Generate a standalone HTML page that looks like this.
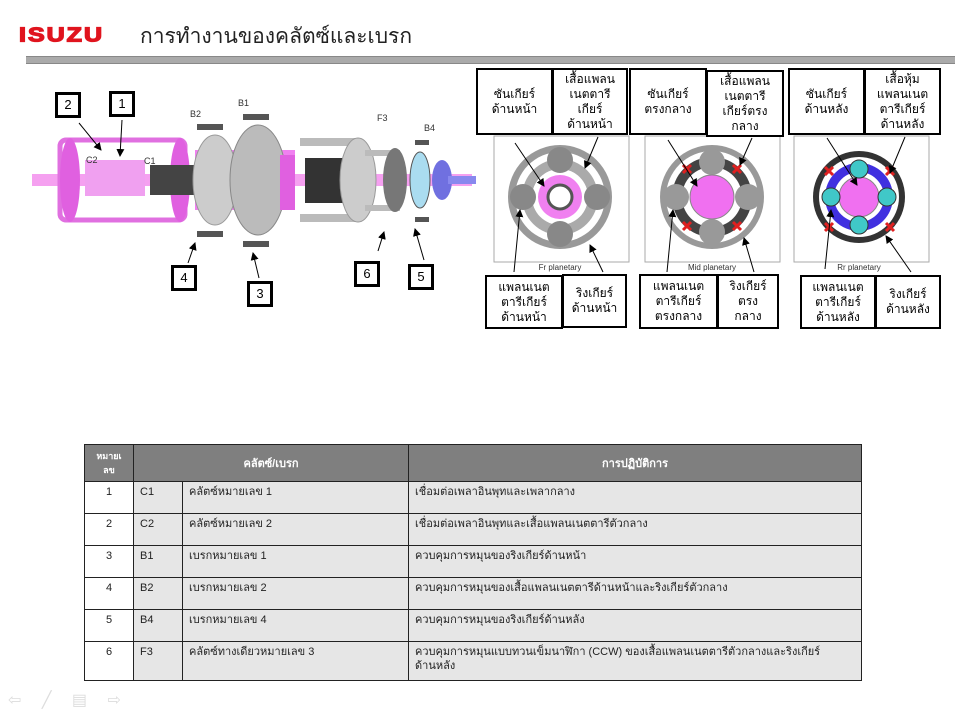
<!DOCTYPE html>
<html><head><meta charset="utf-8"><style>
body{margin:0;width:955px;height:718px;background:#fff;position:relative;overflow:hidden;font-family:"Liberation Sans",sans-serif}
.a{position:absolute}
.bx{position:absolute;border:2px solid #000;background:#fff;font-size:12px;text-align:center;line-height:15px;box-sizing:border-box;display:flex;align-items:center;justify-content:center}
.nb{position:absolute;border:3px solid #000;background:#fff;width:26px;height:26px;box-sizing:border-box;font-size:13px;text-align:center;line-height:20px}
table{position:absolute;left:84px;top:444px;border-collapse:collapse;font-size:11px;color:#222;table-layout:fixed;width:777px}
td{border:1px solid #222;vertical-align:top;padding:3px 6px 0;height:29px;background:#e6e6e6;box-sizing:border-box;overflow:hidden;line-height:14px}
td.n{background:#fff;text-align:center}
th{background:#7f7f7f;color:#fff;font-size:11px;height:37px;border:1px solid #222;padding:0;box-sizing:border-box}
</style></head><body>
<div class="a" style="left:19px;top:24px;color:#e0141e;font-weight:900;font-size:25px;letter-spacing:2px;-webkit-text-stroke:1.6px #e0141e;transform:scaleY(0.8);transform-origin:top left">ISUZU</div>
<div class="a" style="left:140px;top:20px;font-size:21px;color:#222">การทำงานของคลัตซ์และเบรก</div>
<div class="a" style="left:26px;top:56px;width:929px;height:6px;background:#aaa;border-top:1px solid #888;border-bottom:1px solid #888"></div>

<svg class="a" style="left:0;top:0" width="955" height="440">
<defs><marker id="ar" markerWidth="8" markerHeight="8" refX="7" refY="4" orient="auto"><path d="M0,0L8,4L0,8z" fill="#000"/></marker></defs>
<rect x="32" y="174" width="440" height="12" fill="#f5a0f0"/>
<rect x="60" y="140" width="125" height="80" rx="6" fill="none" stroke="#e070e0" stroke-width="5"/>
<ellipse cx="70" cy="180" rx="10" ry="42" fill="#e060e0"/>
<ellipse cx="180" cy="180" rx="10" ry="42" fill="#e060e0"/>
<rect x="85" y="160" width="60" height="36" fill="#f0a0f0"/>
<rect x="150" y="165" width="45" height="30" fill="#444"/>
<rect x="195" y="150" width="100" height="60" fill="#f080f0"/>
<ellipse cx="215" cy="180" rx="22" ry="45" fill="#ccc" stroke="#999"/>
<ellipse cx="258" cy="180" rx="28" ry="55" fill="#bbb" stroke="#888"/>
<rect x="280" y="155" width="15" height="55" fill="#e060e0"/>
<rect x="300" y="138" width="60" height="8" fill="#bbb"/><rect x="300" y="214" width="60" height="8" fill="#bbb"/>
<rect x="305" y="158" width="40" height="45" fill="#333"/>
<ellipse cx="358" cy="180" rx="18" ry="42" fill="#ccc" stroke="#999"/>
<rect x="365" y="150" width="35" height="6" fill="#bbb"/><rect x="365" y="205" width="35" height="6" fill="#bbb"/>
<ellipse cx="395" cy="180" rx="12" ry="32" fill="#777"/>
<ellipse cx="420" cy="180" rx="10" ry="28" fill="#aadcf0" stroke="#555"/>
<ellipse cx="442" cy="180" rx="10" ry="20" fill="#7070e0"/>
<rect x="448" y="176" width="28" height="8" fill="#8888ee"/>
<g fill="#555"><rect x="197" y="124" width="26" height="6"/><rect x="197" y="231" width="26" height="6"/><rect x="243" y="114" width="26" height="6"/><rect x="243" y="241" width="26" height="6"/><rect x="415" y="140" width="14" height="5"/><rect x="415" y="217" width="14" height="5"/></g>
<g font-size="9" fill="#333"><text x="190" y="117">B2</text><text x="238" y="106">B1</text><text x="377" y="121">F3</text><text x="424" y="131">B4</text><text x="86" y="163">C2</text><text x="144" y="164">C1</text></g>
<g stroke="#000" stroke-width="1" marker-end="url(#ar)"><line x1="79" y1="123" x2="101" y2="150"/><line x1="122" y1="120" x2="120" y2="156"/><line x1="188" y1="263" x2="195" y2="243"/><line x1="259" y1="278" x2="253" y2="253"/><line x1="378" y1="251" x2="384" y2="232"/><line x1="424" y1="260" x2="415" y2="229"/></g>
<g stroke="#aaa" fill="#fff"><rect x="494" y="136" width="135" height="126"/><rect x="645" y="136" width="135" height="126"/><rect x="794" y="136" width="135" height="126"/></g>
<g font-size="8" fill="#333" text-anchor="middle"><text x="560" y="270">Fr planetary</text><text x="712" y="270">Mid planetary</text><text x="859" y="270">Rr planetary</text></g>
<circle cx="560" cy="197" r="52" fill="#999"/><circle cx="560" cy="197" r="45" fill="#fff"/><circle cx="560" cy="197" r="38" fill="#aaa"/><circle cx="560" cy="197" r="28" fill="#fff"/>
<g fill="#888"><circle cx="560" cy="160" r="13"/><circle cx="560" cy="234" r="13"/><circle cx="523" cy="197" r="13"/><circle cx="597" cy="197" r="13"/></g>
<circle cx="560" cy="197" r="22" fill="#f080f0"/><circle cx="560" cy="197" r="12" fill="#fff" stroke="#555" stroke-width="3"/>
<circle cx="712" cy="197" r="52" fill="#999"/><circle cx="712" cy="197" r="46" fill="#fff"/><circle cx="712" cy="197" r="40" fill="#444"/><circle cx="712" cy="197" r="30" fill="#fff"/>
<g fill="#999"><circle cx="712" cy="162" r="13"/><circle cx="712" cy="232" r="13"/><circle cx="676" cy="197" r="13"/><circle cx="748" cy="197" r="13"/></g>
<circle cx="712" cy="197" r="22" fill="#f070f0" stroke="#888"/>
<circle cx="859" cy="197" r="46" fill="#333"/><circle cx="859" cy="197" r="40" fill="#fff"/><circle cx="859" cy="197" r="34" fill="#4030e0"/><circle cx="859" cy="197" r="25" fill="#fff"/>
<circle cx="859" cy="197" r="20" fill="#f070f0" stroke="#888"/>
<g fill="#40c8c8" stroke="#333"><circle cx="859" cy="169" r="9"/><circle cx="859" cy="225" r="9"/><circle cx="831" cy="197" r="9"/><circle cx="887" cy="197" r="9"/></g>
<g stroke="#e02020" stroke-width="3"><path d="M733,165l8,8m0,-8l-8,8M733,222l8,8m0,-8l-8,8M683,165l8,8m0,-8l-8,8M683,222l8,8m0,-8l-8,8M825,167l8,8m0,-8l-8,8M886,167l8,8m0,-8l-8,8M825,223l8,8m0,-8l-8,8M886,223l8,8m0,-8l-8,8"/></g>
<g stroke="#000" stroke-width="1" marker-end="url(#ar)"><line x1="515" y1="143" x2="544" y2="186"/><line x1="598" y1="137" x2="585" y2="168"/><line x1="514" y1="272" x2="520" y2="210"/><line x1="603" y1="272" x2="590" y2="245"/><line x1="668" y1="140" x2="697" y2="186"/><line x1="752" y1="138" x2="740" y2="165"/><line x1="667" y1="272" x2="673" y2="210"/><line x1="754" y1="272" x2="744" y2="238"/><line x1="827" y1="138" x2="857" y2="185"/><line x1="905" y1="137" x2="890" y2="173"/><line x1="825" y1="269" x2="831" y2="210"/><line x1="911" y1="272" x2="886" y2="236"/></g>
</svg>
<div class="nb" style="left:55px;top:92px">2</div><div class="nb" style="left:109px;top:91px">1</div>
<div class="nb" style="left:171px;top:265px">4</div><div class="nb" style="left:247px;top:281px">3</div>
<div class="nb" style="left:354px;top:261px">6</div><div class="nb" style="left:408px;top:264px">5</div>
<div class="bx" style="left:476px;top:68px;width:77px;height:67px">ซันเกียร์<br>ด้านหน้า</div>
<div class="bx" style="left:552px;top:68px;width:76px;height:67px">เสื้อแพลน<br>เนตตารี<br>เกียร์<br>ด้านหน้า</div>
<div class="bx" style="left:629px;top:68px;width:78px;height:67px">ซันเกียร์<br>ตรงกลาง</div>
<div class="bx" style="left:706px;top:70px;width:78px;height:67px">เสื้อแพลน<br>เนตตารี<br>เกียร์ตรง<br>กลาง</div>
<div class="bx" style="left:788px;top:68px;width:77px;height:67px">ซันเกียร์<br>ด้านหลัง</div>
<div class="bx" style="left:864px;top:68px;width:77px;height:67px">เสื้อหุ้ม<br>แพลนเนต<br>ตารีเกียร์<br>ด้านหลัง</div>
<div class="bx" style="left:485px;top:275px;width:78px;height:54px">แพลนเนต<br>ตารีเกียร์<br>ด้านหน้า</div>
<div class="bx" style="left:562px;top:274px;width:65px;height:54px">ริงเกียร์<br>ด้านหน้า</div>
<div class="bx" style="left:639px;top:274px;width:79px;height:55px">แพลนเนต<br>ตารีเกียร์<br>ตรงกลาง</div>
<div class="bx" style="left:717px;top:274px;width:62px;height:55px">ริงเกียร์<br>ตรง<br>กลาง</div>
<div class="bx" style="left:800px;top:275px;width:76px;height:54px">แพลนเนต<br>ตารีเกียร์<br>ด้านหลัง</div>
<div class="bx" style="left:875px;top:275px;width:66px;height:54px">ริงเกียร์<br>ด้านหลัง</div>

<table>
<colgroup><col style="width:49px"><col style="width:49px"><col style="width:226px"><col style="width:453px"></colgroup>
<tr><th style="font-size:9px;line-height:14px">หมายเ<br>ลข</th><th colspan="2">คลัตซ์/เบรก</th><th>การปฏิบัติการ</th></tr>
<tr style="height:32px"><td class="n">1</td><td>C1</td><td>คลัตซ์หมายเลข 1</td><td>เชื่อมต่อเพลาอินพุทและเพลากลาง</td></tr>
<tr style="height:32px"><td class="n">2</td><td>C2</td><td>คลัตซ์หมายเลข 2</td><td>เชื่อมต่อเพลาอินพุทและเสื้อแพลนเนตตารีตัวกลาง</td></tr>
<tr style="height:32px"><td class="n">3</td><td>B1</td><td>เบรกหมายเลข 1</td><td>ควบคุมการหมุนของริงเกียร์ด้านหน้า</td></tr>
<tr style="height:32px"><td class="n">4</td><td>B2</td><td>เบรกหมายเลข 2</td><td>ควบคุมการหมุนของเสื้อแพลนเนตตารีด้านหน้าและริงเกียร์ตัวกลาง</td></tr>
<tr style="height:32px"><td class="n">5</td><td>B4</td><td>เบรกหมายเลข 4</td><td>ควบคุมการหมุนของริงเกียร์ด้านหลัง</td></tr>
<tr style="height:39px"><td class="n">6</td><td>F3</td><td>คลัตซ์ทางเดียวหมายเลข 3</td><td>ควบคุมการหมุนแบบทวนเข็มนาฬิกา (CCW) ของเสื้อแพลนเนตตารีตัวกลางและริงเกียร์<br>ด้านหลัง</td></tr>
</table>
<div class="a" style="left:8px;top:690px;color:#ddd;font-size:16px;letter-spacing:8px">⇦ ╱ ▤ ⇨</div>
</body></html>
